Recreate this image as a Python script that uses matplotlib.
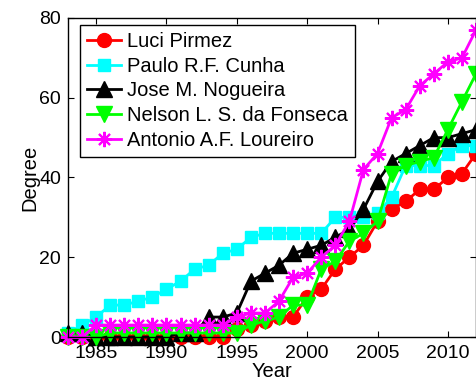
import matplotlib
matplotlib.use("Agg")
import matplotlib.pyplot as plt

years = list(range(1983, 2013))

luci = [0, 0, 0, 0, 0, 0, 0, 0, 0, 0, 0, 0, 2, 3, 4, 5, 5, 10, 12, 17, 20, 23, 29, 32, 34, 37, 37, 40, 41, 46]
paulo = [1, 3, 5, 8, 8, 9, 10, 12, 14, 17, 18, 21, 22, 25, 26, 26, 26, 26, 26, 30, 30, 30, 31, 35, 43, 43, 43, 46, 48, 48]
jose = [1, 1, 0, 0, 0, 0, 0, 0, 1, 1, 5, 5, 6, 14, 16, 18, 21, 22, 23, 25, 27, 32, 39, 44, 46, 48, 50, 50, 51, 52]
nelson = [0, 0, 0, 1, 1, 1, 1, 1, 1, 1, 1, 1, 1, 3, 4, 5, 8, 8, 17, 19, 24, 26, 29, 41, 43, 44, 45, 52, 59, 66]
antonio = [0, 0, 3, 3, 3, 3, 3, 3, 3, 3, 3, 3, 5, 6, 6, 9, 15, 16, 20, 23, 29, 42, 46, 55, 57, 63, 66, 69, 70, 77]

names = ["Luci Pirmez", "Paulo R.F. Cunha", "Jose M. Nogueira",
         "Nelson L. S. da Fonseca", "Antonio A.F. Loureiro"]
x_ticks = [1985, 1990, 1995, 2000, 2005, 2010]
y_ticks = [0, 20, 40, 60, 80]

plt.rcParams['font.family'] = ['Liberation Sans', 'DejaVu Sans']

fig = plt.figure(figsize=(4.77, 3.81), dpi=100)
ax = fig.add_axes([68/477, 44/381, 408/477, 319/381])

styles = [
    dict(color=(1, 0, 0), marker='o', markersize=10),
    dict(color=(0, 1, 1), marker='s', markersize=9),
    dict(color=(0, 0, 0), marker='^', markersize=11),
    dict(color=(0, 1, 0), marker='v', markersize=11),
    dict(color=(1, 0, 1), marker=(8, 2, 0), markersize=11, markeredgewidth=1.5),
]
series = [luci, paulo, jose, nelson, antonio]
for s, name, st in zip(series, names, styles):
    kw = dict(st)
    ax.plot(years, s, linewidth=2, label=name, clip_on=False, **kw)

ax.set_xlim(1983, 2012)
ax.set_ylim(0, 80)
ax.set_xticks(x_ticks)
ax.set_yticks(y_ticks)
ax.tick_params(direction='in', top=True, right=True, labelsize=14, length=4, pad=5)
ax.tick_params(axis='x', pad=6)
for sp in ax.spines.values():
    sp.set_linewidth(1)
ax.set_xlabel("Year", fontsize=14.5, labelpad=0)
ax.set_ylabel("Degree", fontsize=14.5, labelpad=0)

leg = ax.legend(loc='upper left', fontsize=14.5, frameon=True, fancybox=False,
                edgecolor='black', framealpha=1, handlelength=1.7,
                bbox_to_anchor=(12/408, 1 - 7/319),
                borderaxespad=0.0, labelspacing=0.28, handletextpad=0.3,
                borderpad=0.35)
leg.get_frame().set_linewidth(1)

fig.savefig("out.png", dpi=100)
